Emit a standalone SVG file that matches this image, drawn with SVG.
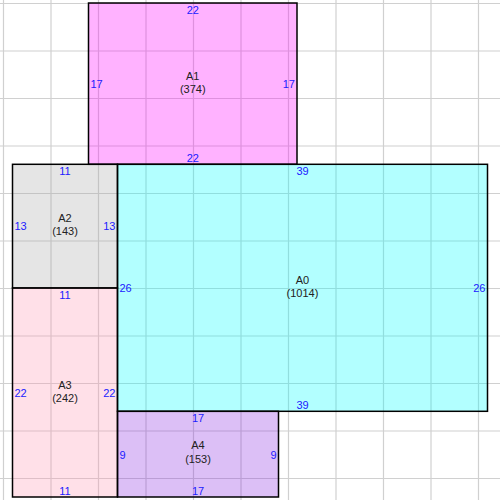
<svg xmlns="http://www.w3.org/2000/svg" width="500" height="500" viewBox="0 0 500 500">
<style>
.grid line{stroke:#d0d0d0;stroke-width:1.2}
.box{stroke:#000;stroke-width:1.5}
.n{font-family:"Liberation Sans",Arial,sans-serif;font-size:11px;fill:#222;text-anchor:middle}
.d{font-family:"Liberation Sans",Arial,sans-serif;font-size:11px;fill:#2020ff}
.m{text-anchor:middle}
.e{text-anchor:end}
</style>
<rect width="500" height="500" fill="#fff"/>
<g class="grid">
<line x1="3.5" y1="0" x2="3.5" y2="500"/><line x1="51" y1="0" x2="51" y2="500"/><line x1="98.5" y1="0" x2="98.5" y2="500"/><line x1="146" y1="0" x2="146" y2="500"/><line x1="193.5" y1="0" x2="193.5" y2="500"/><line x1="241" y1="0" x2="241" y2="500"/><line x1="288.5" y1="0" x2="288.5" y2="500"/><line x1="336" y1="0" x2="336" y2="500"/><line x1="383.5" y1="0" x2="383.5" y2="500"/><line x1="431" y1="0" x2="431" y2="500"/><line x1="478.5" y1="0" x2="478.5" y2="500"/>
<line y1="3.5" x1="0" y2="3.5" x2="500"/><line y1="51" x1="0" y2="51" x2="500"/><line y1="98.5" x1="0" y2="98.5" x2="500"/><line y1="146" x1="0" y2="146" x2="500"/><line y1="193.5" x1="0" y2="193.5" x2="500"/><line y1="241" x1="0" y2="241" x2="500"/><line y1="288.5" x1="0" y2="288.5" x2="500"/><line y1="336" x1="0" y2="336" x2="500"/><line y1="383.5" x1="0" y2="383.5" x2="500"/><line y1="431" x1="0" y2="431" x2="500"/><line y1="478.5" x1="0" y2="478.5" x2="500"/>
</g>
<g id="A1">
<rect class="box" x="88.5" y="3" width="208.5" height="161.3" fill="rgba(255,0,255,0.3)"/>
<text class="n" x="192.75" y="79.6">A1</text><text class="n" x="192.75" y="92.6">(374)</text>
<text class="d m" x="192.75" y="14">22</text><text class="d m" x="192.75" y="161.8">22</text>
<text class="d" x="90.5" y="87.6">17</text><text class="d e" x="295" y="87.6">17</text>
</g>
<g id="A2">
<rect class="box" x="12.5" y="164.3" width="105" height="123.7" fill="rgba(169,169,169,0.3)"/>
<text class="n" x="65" y="222.2">A2</text><text class="n" x="65" y="235.2">(143)</text>
<text class="d m" x="65" y="175.3">11</text>
<text class="d" x="14.5" y="230.2">13</text><text class="d e" x="115.5" y="230.2">13</text>
</g>
<g id="A3">
<rect class="box" x="12.5" y="288" width="105" height="209" fill="rgba(255,152,178,0.3)"/>
<text class="n" x="65" y="388.5">A3</text><text class="n" x="65" y="401.5">(242)</text>
<text class="d m" x="65" y="299">11</text><text class="d m" x="65" y="494.5">11</text>
<text class="d" x="14.5" y="396.5">22</text><text class="d e" x="115.5" y="396.5">22</text>
</g>
<g id="A0">
<rect class="box" x="117.5" y="164.3" width="370" height="247" fill="rgba(0,255,255,0.3)"/>
<text class="n" x="302.5" y="283.8">A0</text><text class="n" x="302.5" y="296.8">(1014)</text>
<text class="d m" x="302.5" y="175.3">39</text><text class="d m" x="302.5" y="408.8">39</text>
<text class="d" x="119.5" y="291.8">26</text><text class="d e" x="485.5" y="291.8">26</text>
</g>
<g id="A4">
<rect class="box" x="117.5" y="411.3" width="161" height="85.7" fill="rgba(138,43,226,0.3)"/>
<text class="n" x="198" y="449.2">A4</text><text class="n" x="198" y="462.8">(153)</text>
<text class="d m" x="198" y="422.3">17</text><text class="d m" x="198" y="494.5">17</text>
<text class="d" x="119.5" y="458.5">9</text><text class="d e" x="276.5" y="458.5">9</text>
</g>
<g id="connectors"/>
</svg>
